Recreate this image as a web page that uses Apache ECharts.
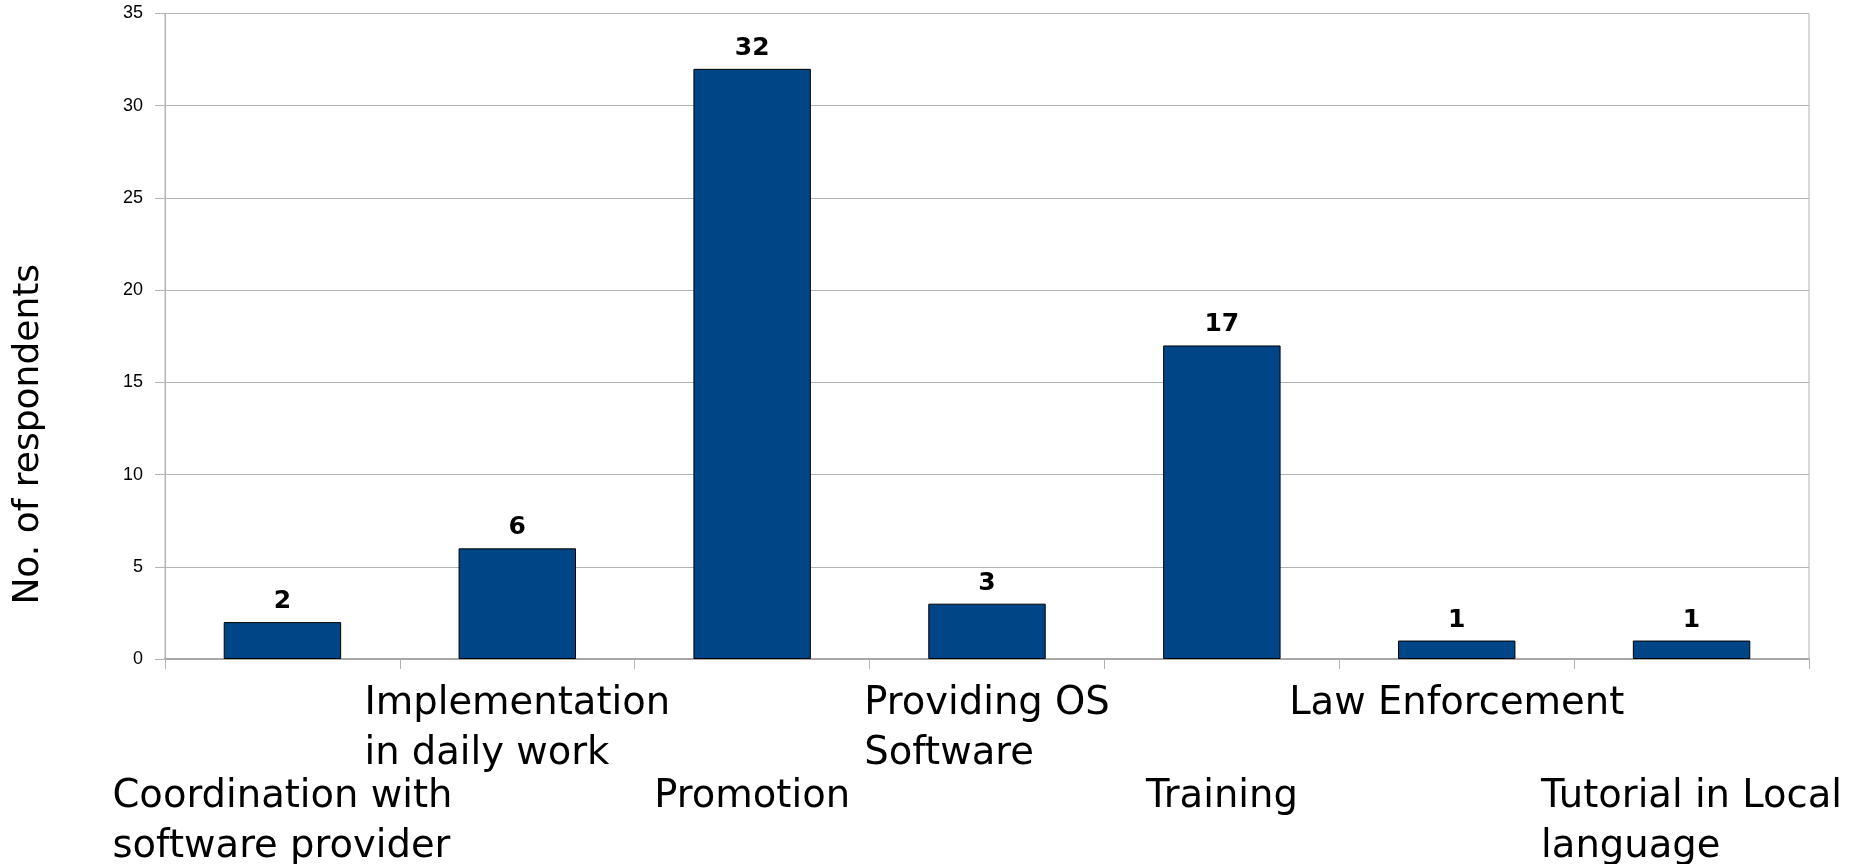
<!DOCTYPE html>
<html>
<head>
<meta charset="utf-8">
<title>No. of respondents</title>
<script src="https://cdn.jsdelivr.net/npm/echarts@6/dist/echarts.min.js"></script>
<style>
  html, body { margin: 0; padding: 0; background: #fff; }
  #chart { width: 1864px; height: 864px; }
</style>
</head>
<body>
<div id="chart"></div>
<script>
// categories as shown under the bars (line breaks as in the picture)
var categories = [
  'Coordination with\nsoftware provider',
  'Implementation\nin daily work',
  'Promotion',
  'Providing OS\nSoftware',
  'Training',
  'Law Enforcement',
  'Tutorial in Local\nlanguage'
];
var respondents = [2, 6, 32, 3, 17, 1, 1];
var yTicks = [0, 5, 10, 15, 20, 25, 30, 35];
var yName = 'No. of respondents';

var myChart = echarts.init(document.getElementById('chart'));

var option = {
  backgroundColor: '#fff',
  animation: false,
  grid: {
    left: 165,
    right: 55,
    top: 13.5,
    bottom: 205,
    outerBoundsMode: 'none',
    show: true,
    borderColor: '#b3b3b3',
    borderWidth: 1
  },
  xAxis: {
    type: 'category',
    data: categories,
    axisLine: {
      lineStyle: { color: '#a8a8a8', width: 2 }
    },
    axisTick: {
      show: true,
      length: 10,
      lineStyle: { color: '#b3b3b3' }
    },
    axisLabel: {
      interval: 0,
      margin: 20,
      lineHeight: 50,
      fontFamily: 'DejaVu Sans',
      fontSize: 38.5,
      color: '#000',
      formatter: function (value, index) {
        var lines = value.split('\n').map(function (l) {
          return '{t|' + l + '}';
        });
        // every other label is pushed down below its neighbours
        var pre = index % 2 === 0 ? '{gap| }\n' : '';
        return pre + lines.join('\n');
      },
      rich: {
        t: {
          align: 'left',
          fontFamily: 'DejaVu Sans',
          fontSize: 38.5,
          lineHeight: 50,
          color: '#000'
        },
        gap: {
          fontSize: 10,
          lineHeight: 93
        }
      }
    }
  },
  yAxis: {
    type: 'value',
    min: yTicks[0],
    max: yTicks[yTicks.length - 1],
    interval: yTicks[1] - yTicks[0],
    name: yName,
    nameLocation: 'middle',
    nameGap: 118,
    nameTextStyle: {
      fontFamily: 'DejaVu Sans',
      fontSize: 36,
      color: '#000',
      padding: [0, 196, 0, 0]
    },
    axisLine: {
      show: true,
      lineStyle: { color: '#b3b3b3' }
    },
    axisTick: {
      show: true,
      length: 10,
      lineStyle: { color: '#b3b3b3' }
    },
    axisLabel: {
      margin: 22,
      fontFamily: 'Liberation Sans',
      fontSize: 18,
      color: '#000'
    },
    splitLine: {
      show: true,
      lineStyle: { color: '#b3b3b3' }
    }
  },
  series: [
    {
      type: 'bar',
      data: respondents,
      barWidth: '50%',
      itemStyle: {
        color: '#004586',
        borderColor: '#000',
        borderWidth: 1
      },
      label: {
        show: true,
        position: 'top',
        distance: 8,
        fontFamily: 'DejaVu Sans',
        fontWeight: 'bold',
        fontSize: 25,
        color: '#000'
      }
    }
  ]
};
myChart.setOption(option);
</script>
</body>
</html>
